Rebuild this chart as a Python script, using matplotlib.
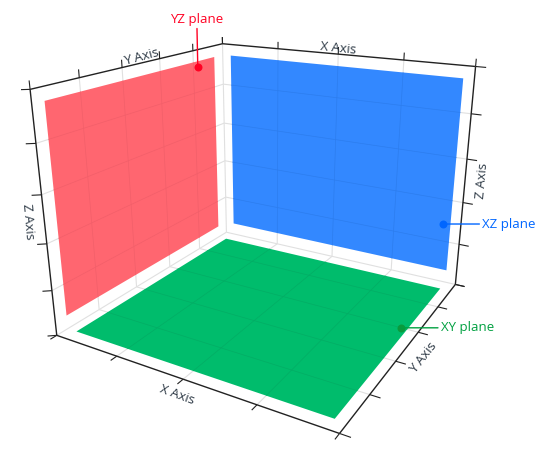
import numpy as np
import matplotlib
matplotlib.use('Agg')
import matplotlib.pyplot as plt
from mpl_toolkits.mplot3d.art3d import Poly3DCollection
from mpl_toolkits.mplot3d import proj3d

plt.rcParams['font.family'] = ['Open Sans', 'DejaVu Sans']

x_ticks = [0, 1, 2, 3, 4]
y_ticks = [0, 1, 2, 3, 4, 5]
z_ticks = [0, 1, 2, 3, 4, 5]

# plane extents in axis units
plane_x = [0.15, 3.85]
plane_y = [0.25, 4.70]
plane_z = [0.30, 4.73]

# callout points
yz_point = (0, 4.14, 4.59)
xz_point = (3.74, 5, 1.41)
xy_point = (3.77, 3.0, 0)

RED, BLUE, GREEN = '#ff6670', '#3388ff', '#00bc6c'
RED_GRID, BLUE_GRID, GREEN_GRID = '#f25f6a', '#2c7dee', '#03ad65'
GRID = '#e0e0e0'
W, H = 554, 449

fig = plt.figure(figsize=(W / 100, H / 100), dpi=100, facecolor='white')
ax = fig.add_axes([0, 0, 1, 1], projection='3d', computed_zorder=False)
ax.set_xlim(0, 4, view_margin=0)
ax.set_ylim(0, 5, view_margin=0)
ax.set_zlim(0, 5, view_margin=0)
ax.view_init(elev=20, azim=-60, roll=0)
ax.set_proj_type('persp', focal_length=0.2916)
ax.set_box_aspect((1, 1, 0.8))
ax.set_axis_off()

# place the axes so the box lands where it is in the picture
scale, cx, cy = 2613.49, 269.13, 199.01
vl = ax.viewLim
side = scale * vl.width
left = cx + scale * vl.x0
top = cy - scale * vl.y1
ax.set_position([left / W, (H - top - side) / H, side / W, side / H])


def seg(p, q, color, lw=0.8, z=1):
    ax.plot([p[0], q[0]], [p[1], q[1]], [p[2], q[2]], color=color, lw=lw, zorder=z,
            solid_capstyle='butt')


def wall(pts, color, z):
    ax.add_collection3d(Poly3DCollection([pts], facecolors=color, edgecolors='none', zorder=z))


# grey grid on the three walls
for t in x_ticks[1:-1]:
    seg((t, 0, 0), (t, 5, 0), GRID)
    seg((t, 5, 0), (t, 5, 5), GRID)
for t in y_ticks[1:-1]:
    seg((0, t, 0), (4, t, 0), GRID)
    seg((0, t, 0), (0, t, 5), GRID)
for t in z_ticks[1:-1]:
    seg((0, 0, t), (0, 5, t), GRID)
    seg((0, 5, t), (4, 5, t), GRID)
seg((0, 0, 0), (0, 5, 0), GRID)
seg((0, 5, 0), (4, 5, 0), GRID)
seg((0, 5, 0), (0, 5, 5), GRID)

# planes
y0, y1 = plane_y
x0, x1 = plane_x
z0, z1 = plane_z
wall([(0, y0, z0), (0, y1, z0), (0, y1, z1), (0, y0, z1)], RED, 2)
wall([(x0, 5, z0), (x1, 5, z0), (x1, 5, z1), (x0, 5, z1)], BLUE, 2)
wall([(x0, y0, 0), (x1, y0, 0), (x1, y1, 0), (x0, y1, 0)], GREEN, 2)

# grid showing through the planes
for t in x_ticks[1:-1]:
    seg((t, y0, 0), (t, y1, 0), GREEN_GRID, 0.5, 3)
    seg((t, 5, z0), (t, 5, z1), BLUE_GRID, 0.5, 3)
for t in y_ticks[1:-1]:
    seg((x0, t, 0), (x1, t, 0), GREEN_GRID, 0.5, 3)
    seg((0, t, z0), (0, t, z1), RED_GRID, 0.5, 3)
for t in z_ticks[1:-1]:
    seg((0, y0, t), (0, y1, t), RED_GRID, 0.5, 3)
    seg((x0, 5, t), (x1, 5, t), BLUE_GRID, 0.5, 3)

# box edges
BLACK = '#222222'
seg((0, 0, 0), (4, 0, 0), BLACK, 1.0, 4)
seg((4, 0, 0), (4, 5, 0), BLACK, 1.0, 4)
seg((0, 0, 0), (0, 0, 5), BLACK, 1.0, 4)
seg((4, 5, 0), (4, 5, 5), BLACK, 1.0, 4)
seg((0, 0, 5), (0, 5, 5), BLACK, 1.0, 4)
seg((0, 5, 5), (4, 5, 5), BLACK, 1.0, 4)

# ticks
for t in x_ticks:
    seg((t, 0, 0), (t, -0.14, 0), BLACK, 0.8, 4)
    seg((t, 5, 5), (t, 5, 5.16), BLACK, 0.8, 4)
for t in y_ticks:
    seg((4, t, 0), (4.13, t, 0), BLACK, 0.8, 4)
    seg((0, t, 5), (0, t, 5.16), BLACK, 0.8, 4)
for t in z_ticks:
    seg((0, 0, t), (-0.09, -0.09, t), BLACK, 0.8, 4)
    seg((4, 5, t), (4.14, 5, t), BLACK, 0.8, 4)


def to_view(p):
    vx, vy, _ = proj3d.proj_transform(p[0], p[1], p[2], ax.get_proj())
    return vx, vy


# axis titles, anchored on the middle of their edges
def axis_title(p, label, rot, off):
    ax.annotate(label, xy=to_view(p), xytext=off, textcoords='offset pixels', fontsize=9.5,
                color='#2f3b47', rotation=rot, rotation_mode='anchor', ha='center', va='center',
                annotation_clip=False, zorder=5)


axis_title((2, 5, 5), 'X Axis', -6, (0, 6))
axis_title((2, 0, 0), 'X Axis', -20, (-6, -16))
axis_title((0, 2.5, 5), 'Y Axis', 15, (0, 6))
axis_title((4, 2.5, 0), 'Y Axis', 52, (16, -12))
axis_title((0, 0, 2.5), 'Z Axis', -85, (-16, -2))
axis_title((4, 5, 2.5), 'Z Axis', 85, (17, 0))


# callouts
def callout(p, label, dot, color, off):
    ax.scatter([p[0]], [p[1]], [p[2]], s=33, color=dot, depthshade=False, linewidths=0, zorder=6)
    ax.annotate(label, xy=to_view(p), xytext=off, textcoords='offset pixels', fontsize=9.5, color=color,
                ha='center', va='center', annotation_clip=False, zorder=7,
                arrowprops=dict(arrowstyle='-', color=color, lw=1, shrinkA=0, shrinkB=0))


callout(yz_point, 'YZ plane', '#ff0022', '#ff0022', (-1, 48))
callout(xz_point, 'XZ plane', '#0066ff', '#0066ff', (66, 0))
callout(xy_point, 'XY plane', '#0a9a3c', '#00a040', (66, 0))

fig.savefig('out.png', dpi=100)
